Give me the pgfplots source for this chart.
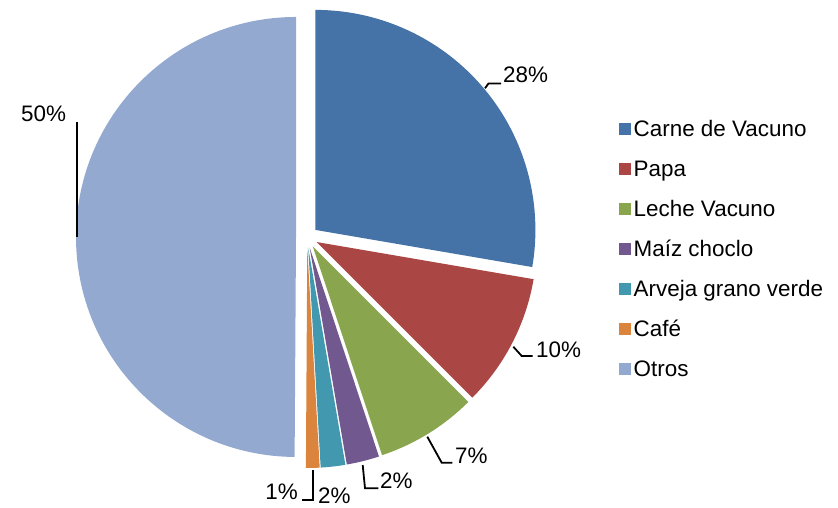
\documentclass[border=0pt]{standalone}
\usepackage{pgfplots}
\usepackage{pgfplotstable}
\pgfplotsset{compat=1.18}
\usepackage{fontspec}
\setmainfont{Liberation Sans}
\usetikzlibrary{calc}

\definecolor{carne}{HTML}{4572A7}
\definecolor{papa}{HTML}{AA4643}
\definecolor{leche}{HTML}{89A54E}
\definecolor{maiz}{HTML}{71588F}
\definecolor{arveja}{HTML}{4198AF}
\definecolor{cafe}{HTML}{DB843D}
\definecolor{otros}{HTML}{93A9CF}

% share (%), colour, label position (image px, y down), label anchor
\pgfplotstableread[col sep=comma]{
name,value,col,lx,ly,anc
Carne de Vacuno,27.7,carne,503,82.7,base west
Papa,9.8,papa,536,357,base west
Leche Vacuno,7.4,leche,455,463,base west
Maíz choclo,2.4,maiz,380,488.5,base west
Arveja grano verde,1.8,arveja,318,503,base west
Café,1.0,cafe,298,499.5,base east
Otros,49.9,otros,21,121.7,base west
}\piedata

\begin{document}
\begin{tikzpicture}[font=\fontsize{22.5}{26}\selectfont]
\useasboundingbox (0,0) rectangle (838bp,508bp);
\begin{axis}[
  at={(0,0)}, anchor=south west,
  scale only axis, width=838bp, height=508bp,
  xmin=0, xmax=838, ymin=0, ymax=508,
  y dir=reverse,
  hide axis, clip=false,
]
\pgfplotsextra{%
  \xdef\startang{90}%
  \foreach \i in {0,...,6}{%
    \pgfplotstablegetelem{\i}{value}\of\piedata \let\val\pgfplotsretval
    \pgfplotstablegetelem{\i}{col}\of\piedata \let\col\pgfplotsretval
    \pgfplotstablegetelem{\i}{name}\of\piedata \let\nm\pgfplotsretval
    \pgfplotstablegetelem{\i}{lx}\of\piedata \let\lx\pgfplotsretval
    \pgfplotstablegetelem{\i}{ly}\of\piedata \let\ly\pgfplotsretval
    \pgfplotstablegetelem{\i}{anc}\of\piedata \let\anc\pgfplotsretval
    \pgfmathsetmacro\endang{\startang-3.6*\val}
    \pgfmathsetmacro\midang{(\startang+\endang)/2}
    % exploded slice
    \fill[fill=\col] ($(axis cs:307,237)+(\midang:11bp)$) -- ++(\startang:220bp)
      arc[start angle=\startang, end angle=\endang, radius=220bp] -- cycle;
    % data label
    \node[anchor=\anc, inner sep=0pt] at (axis cs:\lx,\ly)
      {\pgfmathprintnumber[fixed,precision=0,assume math mode=true]{\val}\%};
    % legend entry
    \pgfmathsetmacro\b{136+40*\i}
    \fill[fill=\col] (axis cs:618.5,{\b-13}) rectangle (axis cs:630.5,{\b-1});
    \node[anchor=base west, inner sep=0pt] at (axis cs:633.5,\b) {\nm};
    \xdef\startang{\endang}
  }%
}
% leader lines
\draw[line width=1.8bp] (axis cs:485,88.3) -- (axis cs:488.5,83.5) -- (axis cs:501,83.5);
\draw[line width=1.8bp] (axis cs:513.3,346.7) -- (axis cs:521.7,356) -- (axis cs:532.5,356);
\draw[line width=1.8bp] (axis cs:427.3,436.7) -- (axis cs:441.7,462.7) -- (axis cs:452.3,462.7);
\draw[line width=1.8bp] (axis cs:362.7,465) -- (axis cs:365,488.3) -- (axis cs:378.3,488.3);
\draw[line width=1.8bp] (axis cs:312.7,470) -- (axis cs:312.7,500) -- (axis cs:301.7,500);
\draw[line width=1.8bp] (axis cs:76.7,122.3) -- (axis cs:76.7,236.7);
\end{axis}
\end{tikzpicture}
\end{document}
